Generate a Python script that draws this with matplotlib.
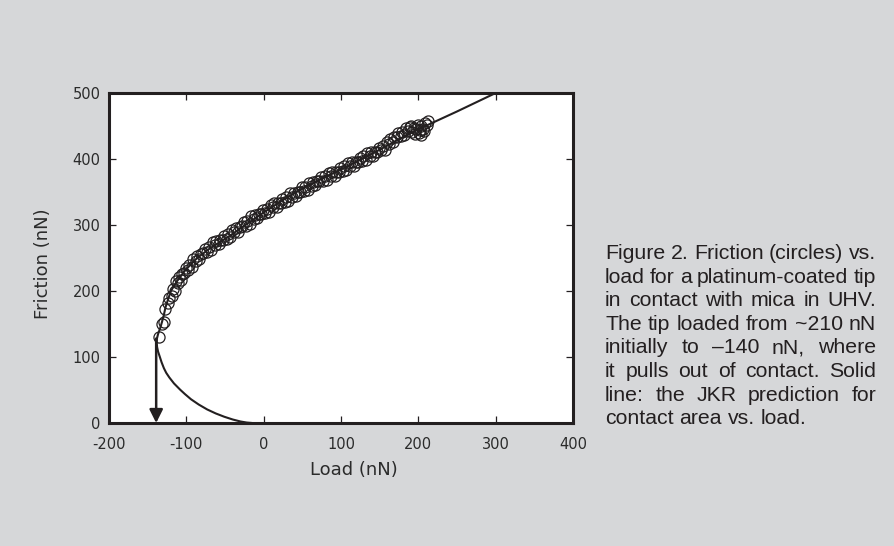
import matplotlib

matplotlib.use('Agg')
from matplotlib import pyplot as plt
from matplotlib import font_manager as fm

plt.rcParams['axes.unicode_minus'] = False

# friction data (circles)
load = [-135, -131, -129, -127, -124, -122, -119, -117, -115, -113, -111, -109, -107, -105,
        -103, -101, -98, -96, -93, -91, -88, -86, -83, -81, -78, -76, -73, -71, -68, -66,
        -63, -61, -58, -56, -53, -51, -48, -46, -43, -41, -38, -36, -33, -31, -28, -26,
        -23, -21, -18, -16, -13, -11, -8, -6, -3, -1, 2, 4, 7, 9, 12, 14, 17, 19, 22, 24,
        27, 29, 32, 34, 37, 39, 42, 44, 47, 49, 52, 54, 57, 59, 62, 64, 67, 69, 72, 74,
        77, 79, 82, 84, 87, 89, 92, 94, 97, 99, 102, 104, 107, 109, 112, 114, 117, 119,
        122, 124, 127, 129, 132, 134, 137, 139, 142, 144, 147, 149, 152, 154, 157, 159,
        162, 164, 167, 169, 172, 174, 177, 179, 182, 184, 187, 189, 192, 194, 197, 199,
        202, 204, 207, 209, 211, 196, 201, 206, 190, 212, 203]
friction = [131, 150, 153, 172, 182, 190, 193, 203, 200, 215, 212, 221, 217, 226,
            228, 235, 232, 240, 236, 249, 245, 253, 249, 256, 257, 263, 259, 266, 262, 274,
            270, 276, 271, 278, 278, 284, 279, 286, 282, 293, 289, 295, 290, 297, 298, 304,
            299, 306, 302, 313, 309, 315, 311, 317, 317, 323, 318, 324, 320, 331, 327, 333,
            328, 334, 334, 340, 335, 342, 337, 348, 343, 349, 344, 350, 350, 357, 352, 358,
            353, 364, 359, 365, 360, 366, 366, 372, 367, 374, 368, 379, 374, 380, 375, 381,
            381, 387, 382, 389, 383, 394, 389, 395, 390, 396, 396, 402, 397, 404, 398, 409,
            404, 410, 405, 411, 411, 417, 413, 419, 414, 426, 422, 430, 426, 433, 434, 440,
            435, 441, 436, 447, 442, 448, 441, 447, 445, 451, 444, 450, 443, 455, 452, 438,
            440, 446, 450, 457, 437]

# JKR prediction (solid line)
jkr_load = [-15, -22, -30, -40, -51, -62, -73, -84, -94, -102, -108, -116, -122, -126, -129,
            -132, -134.5, -136.5, -137.8, -138.3, -138, -136.5, -134, -131.5, -129, -127, -124,
            -120, -112, -101, -86, -69, -47, -25, 0, 25, 50, 75, 100, 125, 150, 175, 200, 250, 300]
jkr_friction = [0, 0.7, 2.3, 5.3, 9.5, 14.5, 20.5, 28, 36, 44, 50.5, 60, 69, 76, 83,
                92, 101, 108, 115, 121, 128, 135, 143, 153, 164, 175, 186,
                200, 215, 232, 250, 265, 281, 299, 319, 338, 355, 370, 384, 399, 414, 430, 445,
                472, 500]

pull_off_load = -139
pull_off_friction = 128

caption = ["Figure 2. Friction (circles) vs.",
           "load for a platinum-coated tip",
           "in contact with mica in UHV.",
           "The tip loaded from ~210 nN",
           "initially to \u2013140 nN, where",
           "it pulls out of contact. Solid",
           "line: the JKR prediction for",
           "contact area vs. load."]

ink = '#231f20'
bg = '#d6d7d9'
W, H = 894, 546
cap_size = 15.3

# plain Liberation Sans (not the Narrow cut)
cap_font = fm.FontProperties(family='DejaVu Sans', size=cap_size)
for f in fm.findSystemFonts():
    if f.endswith('LiberationSans-Regular.ttf'):
        cap_font = fm.FontProperties(fname=f, size=cap_size)
        break

fig = plt.figure(figsize=(W / 100, H / 100), dpi=100, facecolor=bg)
ax = fig.add_axes([109 / W, 123 / H, 464 / W, 330 / H])
ax.set_facecolor('white')

ax.plot(jkr_load, jkr_friction, color=ink, lw=1.5, solid_capstyle='butt', zorder=3)
ax.plot(load, friction, linestyle='none', marker='o', markersize=8,
        markerfacecolor='none', markeredgecolor=ink, markeredgewidth=0.9, zorder=4)
ax.annotate('', xy=(pull_off_load, 0), xytext=(pull_off_load, pull_off_friction),
            arrowprops=dict(arrowstyle='-|>', mutation_scale=20, lw=1.8, color=ink,
                            shrinkA=0, shrinkB=0),
            annotation_clip=False, zorder=5)

ax.set_xlim(-200, 400)
ax.set_ylim(0, 500)
ax.set_xticks([-200, -100, 0, 100, 200, 300, 400])
ax.set_yticks([0, 100, 200, 300, 400, 500])
for s in ax.spines.values():
    s.set_linewidth(2.2)
    s.set_color(ink)
ax.tick_params(direction='in', length=5, width=0.9, color=ink, top=True, right=True,
               labelsize=10.5, labelcolor='#2b2b2b')
ax.tick_params(axis='x', pad=10)
ax.tick_params(axis='y', pad=6)

fig.text(354 / W, 1 - 470 / H, 'Load (nN)', ha='center', va='center', fontsize=13, color='#2b2b2b')
fig.text(43 / W, 1 - 264 / H, 'Friction (nN)', ha='center', va='center', rotation=90,
         fontsize=13, color='#2b2b2b')

# justified caption on the right
renderer = fig.canvas.get_renderer()
x0, x1 = 605, 876
y0, dy = 259, 23.6
for i, line in enumerate(caption):
    words = line.split(' ')
    texts = [fig.text(0, 0, w, fontproperties=cap_font, color=ink,
                      ha='left', va='baseline') for w in words]
    widths = [t.get_window_extent(renderer).width for t in texts]
    if i == len(caption) - 1:
        gap = cap_size * 100 / 72 * 0.278
    else:
        gap = (x1 - x0 - sum(widths)) / (len(words) - 1)
    x = x0
    for t, w in zip(texts, widths):
        t.set_position((x / W, 1 - (y0 + i * dy) / H))
        x += w + gap

fig.savefig('out.png', dpi=100, facecolor=bg)
